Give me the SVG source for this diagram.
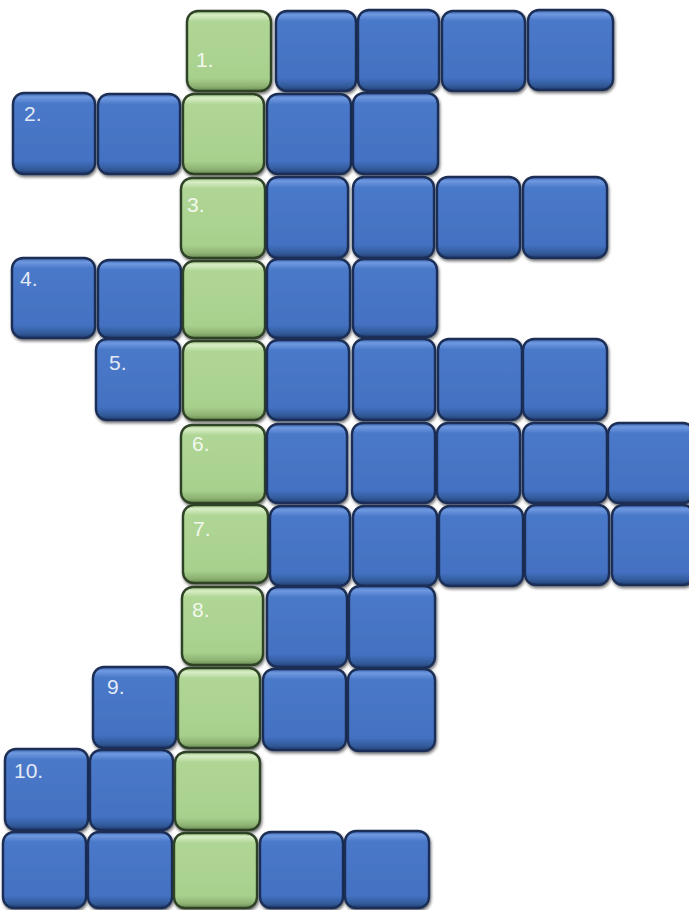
<svg xmlns="http://www.w3.org/2000/svg" width="689" height="910" viewBox="0 0 689 910">
<defs>
<linearGradient id="gb" x1="0" y1="0" x2="0" y2="1">
<stop offset="0" stop-color="#3a64b0"/>
<stop offset="0.05" stop-color="#6f99e0"/>
<stop offset="0.13" stop-color="#4a79c9"/>
<stop offset="0.84" stop-color="#4471c2"/>
<stop offset="0.94" stop-color="#325b9a"/>
<stop offset="1" stop-color="#203d72"/>
</linearGradient>
<linearGradient id="gg" x1="0" y1="0" x2="0" y2="1">
<stop offset="0" stop-color="#9ac17f"/>
<stop offset="0.05" stop-color="#d8eec6"/>
<stop offset="0.13" stop-color="#b0d696"/>
<stop offset="0.84" stop-color="#a8d08d"/>
<stop offset="0.94" stop-color="#8db273"/>
<stop offset="1" stop-color="#688a53"/>
</linearGradient>
<filter id="sh" x="-10%" y="-10%" width="125%" height="125%">
<feDropShadow dx="1" dy="2" stdDeviation="1.6" flood-color="#000" flood-opacity="0.55"/>
</filter>
</defs>
<style>
.b{fill:url(#gb);stroke:#1a2f57;stroke-width:2.4;filter:url(#sh)}
.g{fill:url(#gg);stroke:#2f4227;stroke-width:2.4;filter:url(#sh)}
text{font-family:"Liberation Sans",Arial,sans-serif;font-size:21px}
.tb{fill:#e3eaf5}
.tg{fill:#f3f8ee}
</style>
<rect width="689" height="910" fill="#ffffff"/>
<g id="row1">
<rect class="g" x="187" y="11" width="84" height="80" rx="11"/>
<rect class="b" x="276" y="11" width="80" height="80" rx="11"/>
<rect class="b" x="358" y="10" width="81" height="81" rx="11"/>
<rect class="b" x="442" y="11" width="83" height="80" rx="11"/>
<rect class="b" x="528" y="10" width="85" height="80" rx="11"/>
<text class="tg" x="196" y="67">1.</text>
</g>
<g id="row2">
<rect class="b" x="13" y="93" width="82" height="81" rx="11"/>
<rect class="b" x="98" y="94" width="82" height="80" rx="11"/>
<rect class="g" x="183" y="94" width="81" height="80" rx="11"/>
<rect class="b" x="267" y="94" width="84" height="80" rx="11"/>
<rect class="b" x="353" y="93" width="85" height="81" rx="11"/>
<text class="tb" x="24" y="121">2.</text>
</g>
<g id="row3">
<rect class="g" x="181" y="178" width="84" height="80" rx="11"/>
<rect class="b" x="267" y="177" width="81" height="81" rx="11"/>
<rect class="b" x="353" y="177" width="81" height="81" rx="11"/>
<rect class="b" x="437" y="177" width="83" height="81" rx="11"/>
<rect class="b" x="523" y="177" width="84" height="81" rx="11"/>
<text class="tg" x="187" y="212">3.</text>
</g>
<g id="row4">
<rect class="b" x="12" y="258" width="83" height="80" rx="11"/>
<rect class="b" x="98" y="260" width="83" height="78" rx="11"/>
<rect class="g" x="183" y="261" width="82" height="77" rx="11"/>
<rect class="b" x="267" y="259" width="83" height="79" rx="11"/>
<rect class="b" x="353" y="259" width="84" height="78" rx="11"/>
<text class="tb" x="20" y="286">4.</text>
</g>
<g id="row5">
<rect class="b" x="96" y="339" width="84" height="81" rx="11"/>
<rect class="g" x="183" y="341" width="82" height="79" rx="11"/>
<rect class="b" x="267" y="340" width="82" height="80" rx="11"/>
<rect class="b" x="353" y="339" width="82" height="81" rx="11"/>
<rect class="b" x="438" y="339" width="84" height="81" rx="11"/>
<rect class="b" x="523" y="339" width="84" height="81" rx="11"/>
<text class="tb" x="109" y="370">5.</text>
</g>
<g id="row6">
<rect class="g" x="181" y="425" width="84" height="78" rx="11"/>
<rect class="b" x="267" y="424" width="80" height="79" rx="11"/>
<rect class="b" x="352" y="423" width="83" height="80" rx="11"/>
<rect class="b" x="437" y="423" width="83" height="80" rx="11"/>
<rect class="b" x="523" y="423" width="84" height="80" rx="11"/>
<rect class="b" x="608" y="423" width="86" height="80" rx="11"/>
<text class="tg" x="192" y="451">6.</text>
</g>
<g id="row7">
<rect class="g" x="183" y="505" width="85" height="78" rx="11"/>
<rect class="b" x="270" y="506" width="80" height="80" rx="11"/>
<rect class="b" x="353" y="506" width="84" height="80" rx="11"/>
<rect class="b" x="439" y="506" width="84" height="80" rx="11"/>
<rect class="b" x="525" y="505" width="84" height="80" rx="11"/>
<rect class="b" x="612" y="505" width="82" height="80" rx="11"/>
<text class="tg" x="193" y="536">7.</text>
</g>
<g id="row8">
<rect class="g" x="182" y="587" width="81" height="78" rx="11"/>
<rect class="b" x="267" y="587" width="80" height="80" rx="11"/>
<rect class="b" x="349" y="586" width="86" height="82" rx="11"/>
<text class="tg" x="192" y="617">8.</text>
</g>
<g id="row9">
<rect class="b" x="93" y="667" width="83" height="81" rx="11"/>
<rect class="g" x="178" y="668" width="82" height="80" rx="11"/>
<rect class="b" x="263" y="669" width="83" height="81" rx="11"/>
<rect class="b" x="348" y="669" width="87" height="82" rx="11"/>
<text class="tb" x="107" y="694">9.</text>
</g>
<g id="row10">
<rect class="b" x="5" y="749" width="83" height="81" rx="11"/>
<rect class="b" x="90" y="750" width="83" height="80" rx="11"/>
<rect class="g" x="175" y="752" width="85" height="78" rx="11"/>
<text class="tb" x="14" y="778">10.</text>
</g>
<g id="row11">
<rect class="b" x="3" y="832" width="83" height="76" rx="11"/>
<rect class="b" x="88" y="832" width="84" height="76" rx="11"/>
<rect class="g" x="174" y="833" width="83" height="75" rx="11"/>
<rect class="b" x="260" y="832" width="83" height="76" rx="11"/>
<rect class="b" x="345" y="831" width="84" height="77" rx="11"/>
</g>
<g id="connectors"/>
</svg>
